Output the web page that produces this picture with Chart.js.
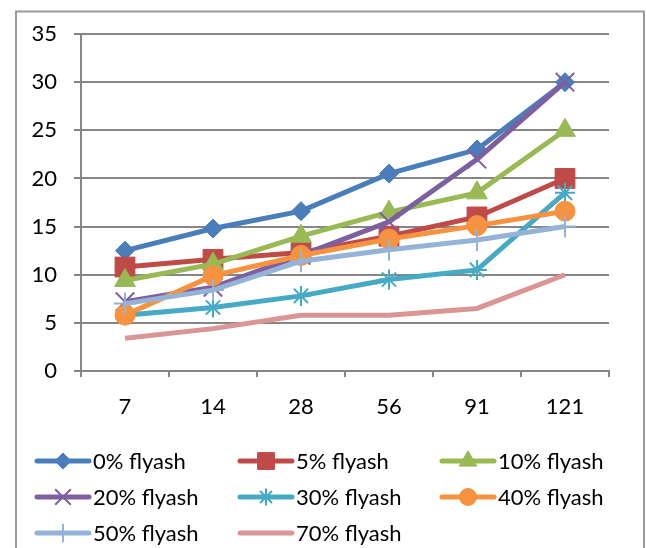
<!DOCTYPE html>
<html>
<head>
<meta charset="utf-8">
<script src="https://cdn.jsdelivr.net/npm/chart.js@4/dist/chart.umd.min.js"></script>
<style>
html,body{margin:0;padding:0;background:#fff;}
#wrap{width:647px;height:548px;position:relative;}
</style>
</head>
<body>
<div id="wrap"><canvas id="c" width="647" height="548"></canvas></div>
<script>
const categories = ["7", "14", "28", "56", "91", "121"];
const seriesNames = ["0% flyash", "5% flyash", "10% flyash", "20% flyash", "30% flyash", "40% flyash", "50% flyash", "70% flyash"];
const flyash0  = [12.5, 14.8, 16.6, 20.5, 23.0, 30.0];
const flyash5  = [10.8, 11.6, 12.3, 14.0, 16.0, 20.0];
const flyash10 = [9.4, 11.1, 14.0, 16.5, 18.5, 25.0];
const flyash20 = [7.2, 8.7, 12.0, 15.5, 22.0, 30.0];
const flyash30 = [5.8, 6.6, 7.8, 9.5, 10.5, 18.5];
const flyash40 = [5.8, 9.9, 12.0, 13.7, 15.1, 16.6];
const flyash50 = [7.0, 8.4, 11.4, 12.6, 13.6, 15.0];
const flyash70 = [3.4, 4.4, 5.8, 5.8, 6.5, 10.0];
const yTicks = [0, 5, 10, 15, 20, 25, 30, 35];

const seriesValues = [flyash0, flyash5, flyash10, flyash20, flyash30, flyash40, flyash50, flyash70];
const lineColors = ["#4A7EBB", "#BE4B48", "#98B954", "#7D60A0", "#46AAC5", "#F69240", "#95B3D7", "#D99694"];
const pointStyles = ["rectRot", "rect", "triangle", "crossRot", "star", "circle", "cross", false];
const pointRadii = [9.5, 14, 12, 13, 10, 10, 11, 0];
const pointBorderW = [1, 1, 1, 2, 2, 1, 2, 0];

const FONT = "Lato, 'Liberation Sans', sans-serif";

const datasets = seriesNames.map((name, i) => ({
  label: name,
  data: seriesValues[i],
  borderColor: lineColors[i],
  backgroundColor: lineColors[i],
  borderWidth: 5,
  pointStyle: pointStyles[i],
  pointRadius: pointRadii[i],
  pointHoverRadius: pointRadii[i],
  pointBorderWidth: pointBorderW[i],
  pointBorderColor: lineColors[i],
  pointBackgroundColor: lineColors[i],
  tension: 0,
  order: seriesNames.length - i
}));

function drawMarker(ctx, style, x, y, r, color, bw) {
  if (!style || r <= 0) return;
  ctx.save();
  ctx.fillStyle = color; ctx.strokeStyle = color; ctx.lineWidth = bw;
  ctx.beginPath();
  const s2 = Math.SQRT1_2;
  if (style === 'rectRot') {
    ctx.moveTo(x, y - r); ctx.lineTo(x + r, y); ctx.lineTo(x, y + r); ctx.lineTo(x - r, y); ctx.closePath();
    ctx.fill(); ctx.stroke();
  } else if (style === 'rect') {
    const s = r * s2;
    ctx.rect(x - s, y - s, 2 * s, 2 * s); ctx.fill(); ctx.stroke();
  } else if (style === 'triangle') {
    for (let k = 0; k < 3; k++) {
      const a = k * 2 * Math.PI / 3;
      const px = x + Math.sin(a) * r, py = y - Math.cos(a) * r;
      if (k === 0) ctx.moveTo(px, py); else ctx.lineTo(px, py);
    }
    ctx.closePath(); ctx.fill(); ctx.stroke();
  } else if (style === 'circle') {
    ctx.arc(x, y, r, 0, Math.PI * 2); ctx.fill(); ctx.stroke();
  } else if (style === 'crossRot') {
    const o = r * s2;
    ctx.moveTo(x - o, y - o); ctx.lineTo(x + o, y + o);
    ctx.moveTo(x - o, y + o); ctx.lineTo(x + o, y - o); ctx.stroke();
  } else if (style === 'cross') {
    ctx.moveTo(x, y - r); ctx.lineTo(x, y + r);
    ctx.moveTo(x - r, y); ctx.lineTo(x + r, y); ctx.stroke();
  } else if (style === 'star') {
    const o = r * s2;
    ctx.moveTo(x, y - r); ctx.lineTo(x, y + r);
    ctx.moveTo(x - r, y); ctx.lineTo(x + r, y);
    ctx.moveTo(x - o, y - o); ctx.lineTo(x + o, y + o);
    ctx.moveTo(x - o, y + o); ctx.lineTo(x + o, y - o); ctx.stroke();
  }
  ctx.restore();
}

const frameAndLegend = {
  id: 'frameAndLegend',
  beforeDraw(chart) {
    const ctx = chart.ctx;
    ctx.save();
    ctx.fillStyle = '#fff';
    ctx.fillRect(0, 0, chart.width, chart.height);
    ctx.strokeStyle = '#9a9a9a';
    ctx.lineWidth = 2;
    ctx.beginPath();
    ctx.moveTo(16, 560); ctx.lineTo(16, 11.5); ctx.lineTo(644, 11.5); ctx.lineTo(644, 560);
    ctx.stroke();
    ctx.restore();
  },
  afterDraw(chart) {
    const ctx = chart.ctx;
    const colX = [35, 238, 440];
    const rowY = [461, 497, 533];
    chart.data.datasets.forEach((ds, i) => {
      const col = i % 3, row = Math.floor(i / 3);
      const x0 = colX[col], y = rowY[row];
      ctx.save();
      ctx.strokeStyle = ds.borderColor;
      ctx.lineWidth = 5;
      ctx.lineCap = 'round';
      ctx.beginPath(); ctx.moveTo(x0 + 2, y); ctx.lineTo(x0 + 54, y); ctx.stroke();
      ctx.restore();
      const lr = ds.pointRadius ? ds.pointRadius * 0.85 : 0;
      drawMarker(ctx, ds.pointStyle, x0 + 28, y, lr, ds.borderColor, ds.pointBorderWidth);
      ctx.save();
      ctx.fillStyle = '#000';
      ctx.font = '22px ' + FONT;
      ctx.textBaseline = 'middle';
      ctx.textAlign = 'left';
      ctx.fillText(ds.label, x0 + 58, y + 1);
      ctx.restore();
    });
  }
};

new Chart(document.getElementById('c'), {
  type: 'line',
  data: { labels: categories, datasets },
  options: {
    responsive: false,
    animation: false,
    events: [],
    layout: { padding: { left: 0, right: 38, top: 34, bottom: 0 } },
    plugins: { legend: { display: false }, tooltip: { enabled: false } },
    scales: {
      x: {
        offset: true,
        afterFit(s) { s.height = 177; },
        grid: {
          offset: true,
          drawOnChartArea: false,
          drawTicks: true,
          tickLength: 6,
          color: '#868686',
          lineWidth: 2
        },
        border: { display: true, color: '#868686', width: 2 },
        ticks: { color: '#000', font: { family: FONT, size: 22 }, padding: 17, maxRotation: 0 }
      },
      y: {
        min: 0, max: 35,
        afterFit(s) { s.width = 81; },
        afterBuildTicks(s) { s.ticks = yTicks.map(v => ({ value: v })); },
        grid: { color: '#868686', lineWidth: 2, tickLength: 7, drawTicks: true },
        border: { display: true, color: '#868686', width: 2 },
        ticks: { color: '#000', font: { family: FONT, size: 22 }, padding: 17 }
      }
    }
  },
  plugins: [frameAndLegend]
});
</script>
</body>
</html>
